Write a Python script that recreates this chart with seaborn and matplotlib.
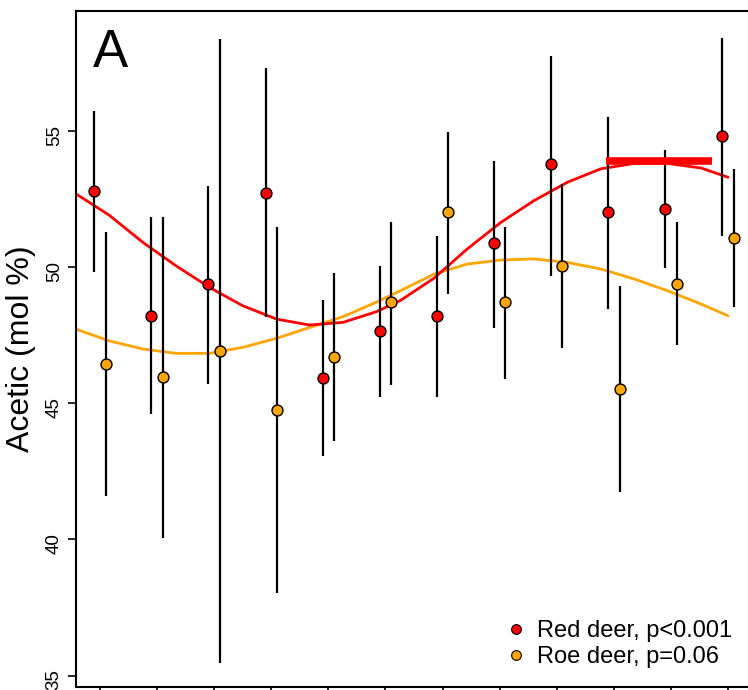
import numpy as np
import pandas as pd
import matplotlib
matplotlib.use("Agg")
import matplotlib.pyplot as plt
from matplotlib.lines import Line2D
import seaborn as sns

# monthly means with error bar ends
months = np.arange(1, 13)
red_mean = [52.82, 48.22, 49.39, 52.72, 45.93, 47.67, 48.22, 50.88, 53.78, 52.05, 52.15, 54.84]
red_lo = [49.82, 44.61, 45.71, 48.16, 43.08, 45.22, 45.22, 47.79, 49.69, 48.48, 49.97, 51.17]
red_hi = [55.76, 51.84, 53.00, 57.32, 48.80, 50.06, 51.17, 53.92, 57.78, 55.51, 54.32, 58.44]

roe_mean = [46.45, 45.96, 46.94, 44.77, 46.69, 48.71, 52.02, 48.71, 50.06, 45.53, 49.39, 51.08]
roe_lo = [41.60, 40.07, 35.48, 38.05, 43.63, 45.68, 49.02, 45.90, 47.04, 41.73, 47.16, 48.53]
roe_hi = [51.29, 51.84, 58.40, 51.47, 49.78, 51.65, 54.96, 51.47, 53.07, 49.33, 51.65, 53.62]

# fitted seasonal curves, sampled from the figure
curve_month = [0.58, 1.16, 1.75, 2.33, 2.92, 3.50, 4.09, 4.67, 5.26, 5.84, 6.26,
               6.85, 7.43, 8.02, 8.60, 9.19, 9.77, 10.36, 10.94, 11.53, 12.00]
red_fit = [52.70, 51.92, 50.92, 50.06, 49.26, 48.59, 48.10, 47.88, 47.98, 48.37, 48.78,
           49.60, 50.67, 51.65, 52.45, 53.13, 53.62, 53.82, 53.82, 53.65, 53.31]
roe_fit = [47.73, 47.30, 47.00, 46.84, 46.84, 47.06, 47.39, 47.79, 48.19, 48.72, 49.14,
           49.75, 50.12, 50.27, 50.31, 50.18, 49.94, 49.57, 49.14, 48.65, 48.22]

# peak interval of the red deer curve
peak_start, peak_end, peak_level = 9.86, 11.72, 53.9

labels = ["Red deer, p<0.001", "Roe deer, p=0.06"]
RED = "#FF0000"
ORANGE = "#FFA500"
OFFSET = 0.1

sns.set_style("ticks")
plt.rcParams["font.family"] = ["Liberation Sans", "DejaVu Sans"]
plt.rcParams["text.color"] = "black"
plt.rcParams["axes.labelcolor"] = "black"
plt.rcParams["xtick.color"] = "black"
plt.rcParams["ytick.color"] = "black"

fig = plt.figure(figsize=(7.48, 6.9), dpi=100)
ax = fig.add_axes([76 / 748, 3 / 690, 676 / 748, 676 / 690])

df_red = pd.DataFrame({"month": months - OFFSET, "mean": red_mean})
df_roe = pd.DataFrame({"month": months + OFFSET, "mean": roe_mean})
df_fit = pd.DataFrame({"month": curve_month, "red": red_fit, "roe": roe_fit})

sns.lineplot(data=df_fit, x="month", y="roe", color=ORANGE, lw=2.0, sort=False, ax=ax, zorder=2)
sns.lineplot(data=df_fit, x="month", y="red", color=RED, lw=2.0, sort=False, ax=ax, zorder=2)

ax.vlines(months - OFFSET, red_lo, red_hi, color="black", lw=1.6, zorder=3)
ax.vlines(months + OFFSET, roe_lo, roe_hi, color="black", lw=1.6, zorder=3)

ax.hlines(peak_level, peak_start, peak_end, color=RED, lw=5.5, zorder=4)

sns.scatterplot(data=df_red, x="month", y="mean", color=RED, edgecolor="black",
                linewidth=1.0, s=62, ax=ax, zorder=5)
sns.scatterplot(data=df_roe, x="month", y="mean", color=ORANGE, edgecolor="black",
                linewidth=1.0, s=62, ax=ax, zorder=5)

ax.set_xlim(0.58, 12.42)
ax.set_ylim(34.58, 59.42)
ax.set_xticks(months)
ax.set_xticklabels([])
ax.set_yticks([35, 40, 45, 50, 55])
ax.tick_params(axis="y", labelrotation=90, labelsize=13.5, length=5.5, width=1.2, pad=4)
ax.tick_params(axis="x", length=7, width=1.2)
for s in ax.spines.values():
    s.set_linewidth(1.5)
    s.set_color("black")
ax.set_xlabel("")
ax.set_ylabel("")

fig.text(29 / 748, 1 - 349 / 690, "Acetic (mol %)", rotation=90, rotation_mode="anchor",
         ha="center", va="baseline", fontsize=23)
fig.text(93 / 748, 1 - 67 / 690, "A", ha="left", va="baseline", fontsize=38)

handles = [
    Line2D([], [], ls="none", marker="o", markersize=7, markerfacecolor=RED, markeredgecolor="black", markeredgewidth=0.8),
    Line2D([], [], ls="none", marker="o", markersize=7, markerfacecolor=ORANGE, markeredgecolor="black", markeredgewidth=0.8),
]
ax.legend(handles, labels, loc="lower right", bbox_to_anchor=(732 / 748, 1 - 668 / 690),
          bbox_transform=fig.transFigure, frameon=False, fontsize=17, borderpad=0,
          borderaxespad=0, handlelength=0.6, handletextpad=0.6, labelspacing=0.15)

fig.savefig("out.png", dpi=100)
